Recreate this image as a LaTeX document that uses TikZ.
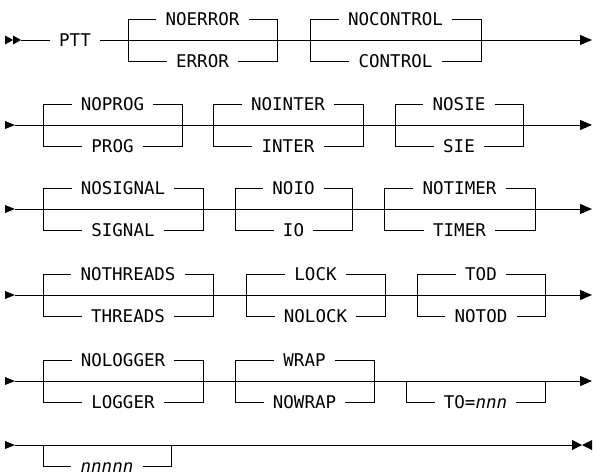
\documentclass[tikz,border=0pt]{standalone}
\usepackage{fontspec}
\newfontfamily\railfont{DejaVu Sans Mono}
\usetikzlibrary{arrows.meta}

% one choice: name, left x, right x, row y, upper keyword, lower keyword
\newcommand{\choice}[6]{%
  \node[kw] (#1up) at ({(#2+#3)/2},{#4-21}) {#5};
  \node[kw] (#1lo) at ({(#2+#3)/2},{#4+21}) {#6};
  \draw[rail] (#2,#4) |- (#1up.west);
  \draw[rail] (#2,#4) |- (#1lo.west);
  \draw[rail] (#1up.east) -| (#3,#4);
  \draw[rail] (#1lo.east) -| (#3,#4);
}
% optional item below the main line
\newcommand{\option}[5]{%
  \node[kw] (#1lo) at ({(#2+#3)/2},{#4+21}) {#5};
  \draw[rail] (#2,#4) |- (#1lo.west);
  \draw[rail] (#1lo.east) -| (#3,#4);
}

\begin{document}
\begin{tikzpicture}[
    x=1pt, y=-1pt,
    rail/.style={line width=1pt},
    kw/.style={font=\railfont\fontsize{17.5}{20}\selectfont, inner xsep=9pt, inner ysep=0pt,
               text height=13pt, text depth=0pt},
    rowend/.style={rail, -{Triangle[length=12pt,width=10pt]}}
]
\useasboundingbox (0,0) rectangle (593,471);

% Row 1
\fill (5,35.5) -- (13,40) -- (5,44.5) -- cycle;
\fill (13,35.5) -- (21,40) -- (13,44.5) -- cycle;
\coordinate (r1s) at (21,40);
\coordinate (r1e) at (592,40);
\node[kw] (ptt) at (75,40) {PTT};
\draw[rail] (r1s) -- (ptt.west);
\draw[rowend] (ptt.east) -- (r1e);
\choice{err}{128}{277}{40}{NOERROR}{ERROR}
\choice{ctl}{310}{481}{40}{NOCONTROL}{CONTROL}

% Row 2
\fill (5,121) -- (15,125) -- (5,129) -- cycle;
\coordinate (r2s) at (15,125);
\coordinate (r2e) at (592,125);
\draw[rowend] (r2s) -- (r2e);
\choice{prog}{43}{182}{125}{NOPROG}{PROG}
\choice{inter}{213}{363}{125}{NOINTER}{INTER}
\choice{sie}{395}{523}{125}{NOSIE}{SIE}

% Row 3
\fill (5,205) -- (15,209) -- (5,213) -- cycle;
\coordinate (r3s) at (15,209);
\coordinate (r3e) at (592,209);
\draw[rowend] (r3s) -- (r3e);
\choice{sig}{43}{203}{209}{NOSIGNAL}{SIGNAL}
\choice{io}{235}{352}{209}{NOIO}{IO}
\choice{tim}{384}{535}{209}{NOTIMER}{TIMER}

% Row 4
\fill (5,291) -- (15,295) -- (5,299) -- cycle;
\coordinate (r4s) at (15,295);
\coordinate (r4e) at (592,295);
\draw[rowend] (r4s) -- (r4e);
\choice{thr}{43}{213}{295}{NOTHREADS}{THREADS}
\choice{lock}{246}{385}{295}{LOCK}{NOLOCK}
\choice{tod}{417}{545}{295}{TOD}{NOTOD}

% Row 5
\fill (5,377) -- (15,381) -- (5,385) -- cycle;
\coordinate (r5s) at (15,381);
\coordinate (r5e) at (592,381);
\draw[rowend] (r5s) -- (r5e);
\choice{log}{43}{203}{381}{NOLOGGER}{LOGGER}
\choice{wrap}{235}{374}{381}{WRAP}{NOWRAP}
\option{to}{406}{545}{381}{TO=\textit{nnn}}

% Row 6
\fill (5,441) -- (15,445) -- (5,449) -- cycle;
\coordinate (r6s) at (15,445);
\coordinate (r6e) at (582,445);
\draw[rail, -{Triangle[length=10pt,width=10pt]}] (r6s) -- (r6e);
\fill (592,440) -- (582,445) -- (592,450) -- cycle;
\option{num}{43}{171}{445}{\textit{nnnnn}}
\end{tikzpicture}
\end{document}
